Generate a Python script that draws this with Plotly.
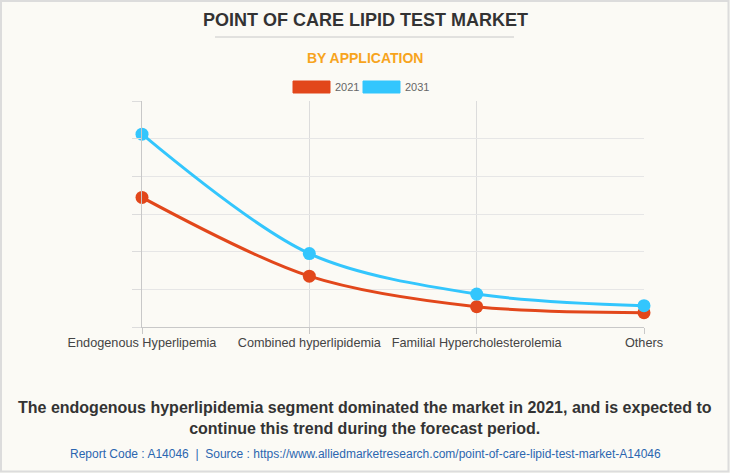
import plotly.graph_objects as go

categories = ["Endogenous Hyperlipemia", "Combined hyperlipidemia", "Familial Hypercholesterolemia", "Others"]
values_2021 = [3.44, 1.35, 0.54, 0.38]
values_2031 = [5.12, 1.95, 0.875, 0.565]
series_names = ["2021", "2031"]
colors = ["#e2471b", "#33c6fd"]

W, H = 730, 473
L, R, T, B = 142, 644, 101, 327

fig = go.Figure()
xs = list(range(len(categories)))
for name, vals, col in zip(series_names, [values_2021, values_2031], colors):
    fig.add_trace(go.Scatter(
        x=xs, y=vals, name=name, mode="lines+markers",
        line=dict(color=col, width=3, shape="spline", smoothing=0.9),
        marker=dict(color=col, size=13),
        showlegend=False, cliponaxis=False,
    ))

fig.update_layout(
    width=W, height=H,
    margin=dict(l=L, r=W - R, t=T, b=H - B),
    paper_bgcolor="#fbfaf5", plot_bgcolor="#fbfaf5",
    font=dict(family="Liberation Sans, Arial, sans-serif", color="#444"),
    xaxis=dict(
        range=[0, len(categories) - 1], tickvals=xs, ticktext=categories,
        showgrid=True, gridcolor="#dcdcdc", gridwidth=1,
        showline=True, linecolor="#c8c8c8", linewidth=1,
        ticks="outside", ticklen=6, tickcolor="#c8c8c8",
        ticklabelstandoff=-2,
        tickfont=dict(size=12.7, color="#444"), zeroline=False, fixedrange=True,
    ),
    yaxis=dict(
        range=[0, 6], dtick=1, showticklabels=False,
        showgrid=True, gridcolor="#e6e6e6", gridwidth=1,
        showline=True, linecolor="#c8c8c8", linewidth=1,
        ticks="outside", ticklen=9, tickcolor="#dcdcdc",
        zeroline=False, fixedrange=True,
    ),
)

# convert page pixels to paper (plot-area) coordinates
def px(x): return (x - L) / (R - L)
def py(y): return (B - y) / (B - T)

shapes = [
    dict(type="rect", xref="paper", yref="paper", x0=px(1), y0=py(H - 1.5), x1=px(W - 1.5), y1=py(1),
         line=dict(color="#dcdcdc", width=2), fillcolor="rgba(0,0,0,0)", layer="below"),
    dict(type="line", xref="paper", yref="paper", x0=px(215), x1=px(514), y0=py(37), y1=py(37),
         line=dict(color="#c8c8c8", width=1)),
]
legend_x = [293, 363]
for lx, col, name in zip(legend_x, colors, series_names):
    shapes.append(dict(type="rect", xref="paper", yref="paper", x0=px(lx), x1=px(lx + 37),
                       y0=py(93), y1=py(81), fillcolor=col, line=dict(color=col, width=1)))
fig.update_layout(shapes=shapes)

annotations = [
    dict(text="<b>POINT OF CARE LIPID TEST MARKET</b>", x=px(365), y=py(20), font=dict(size=18, color="#333")),
    dict(text="<b>BY APPLICATION</b>", x=px(365), y=py(58), font=dict(size=14, color="#f7a41d")),
    dict(text="<b>The endogenous hyperlipidemia segment dominated the market in 2021, and is expected to<br>continue this trend during the forecast period.</b>",
         x=px(365), y=py(418), font=dict(size=16, color="#333")),
    dict(text="Report Code : A14046  |  Source : https://www.alliedmarketresearch.com/point-of-care-lipid-test-market-A14046",
         x=px(365), y=py(454), font=dict(size=12, color="#2b66b0")),
]
for lx, name in zip(legend_x, series_names):
    annotations.append(dict(text=name, x=px(lx + 40), y=py(87), xanchor="left", font=dict(size=11, color="#666")))
for a in annotations:
    a.setdefault("xref", "paper"); a.setdefault("yref", "paper")
    a.setdefault("xanchor", "center"); a["yanchor"] = "middle"; a["showarrow"] = False
fig.update_layout(annotations=annotations)

fig.write_html("out.html", config={"displayModeBar": False},
               post_script="document.body.style.margin='0';")
